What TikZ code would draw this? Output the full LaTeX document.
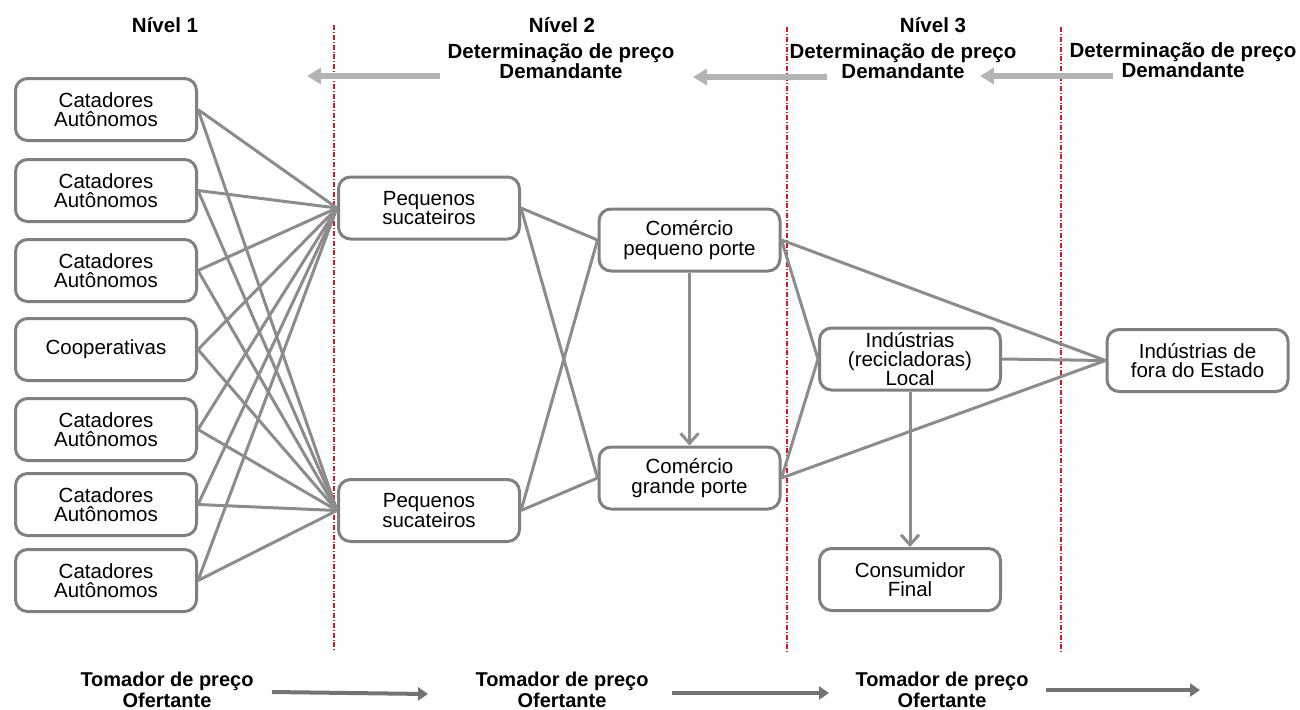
\documentclass[tikz,border=0pt]{standalone}
\usepackage{fontspec}
\setmainfont{Liberation Sans}
\usetikzlibrary{arrows.meta}
\definecolor{boxgray}{RGB}{128,128,128}
\definecolor{linegray}{RGB}{140,140,140}
\definecolor{toparrow}{RGB}{180,180,180}
\definecolor{botarrow}{RGB}{115,115,115}
\definecolor{redline}{RGB}{215,25,35}
\begin{document}
\begin{tikzpicture}[x=0.5pt,y=-0.5pt,
 box/.style={draw=boxgray, line width=1.5pt, rounded corners=6pt, minimum width=90.5pt, minimum height=31pt, align=center, inner sep=0pt, font=\fontsize{10.25}{9.6}\selectfont},
 conn/.style={draw=linegray, line width=1.5pt},
 flow/.style={conn, -{Straight Barb[length=5pt,width=9pt]}},
 sep/.style={draw=redline, line width=0.8pt, dash pattern=on 2.5pt off 1pt on 0.4pt off 1pt},
 lbl/.style={align=center, font=\bfseries\fontsize{10.25}{10}\selectfont, inner sep=0pt},
 blbl/.style={align=center, font=\bfseries\fontsize{10}{9.2}\selectfont, inner sep=0pt},
 toparr/.style={draw=toparrow, line width=2.6pt, -{Triangle[length=7pt,width=8pt]}},
 botarr/.style={draw=botarrow, line width=2pt, -{Triangle[length=5pt,width=6.5pt]}}
]
\useasboundingbox (0,0) rectangle (1300,709);

% separators
\coordinate (s1t) at (334,25);  \coordinate (s1b) at (334,652);
\coordinate (s2t) at (787,27);  \coordinate (s2b) at (787,652);
\coordinate (s3t) at (1061,27); \coordinate (s3b) at (1061,652);
\draw[sep] (s1t) -- (s1b);
\draw[sep] (s2t) -- (s2b);
\draw[sep] (s3t) -- (s3b);

% headings
\node[lbl] (n1) at (165,25) {Nível 1};
\node[lbl] (n2) at (562,25) {Nível 2};
\node[lbl] (n3) at (933,25) {Nível 3};
\node[lbl] (d1) at (561,61) {Determinação de preço\\Demandante};
\node[lbl] (d2) at (903,61) {Determinação de preço\\Demandante};
\node[lbl] (d3) at (1183,60) {Determinação de preço\\Demandante};

% top arrows
\coordinate (ta1s) at (440,76);  \coordinate (ta1e) at (307,76);
\coordinate (ta2s) at (827,77);  \coordinate (ta2e) at (693,77);
\coordinate (ta3s) at (1113,76); \coordinate (ta3e) at (980,76);
\draw[toparr] (ta1s) -- (ta1e);
\draw[toparr] (ta2s) -- (ta2e);
\draw[toparr] (ta3s) -- (ta3e);

% level 1 boxes
\node[box] (c1) at (106,109.5) {Catadores\\Autônomos};
\node[box] (c2) at (106,190.5) {Catadores\\Autônomos};
\node[box] (c3) at (106,270.5) {Catadores\\Autônomos};
\node[box] (c4) at (106,349.5) {Cooperativas};
\node[box] (c5) at (106,429.5) {Catadores\\Autônomos};
\node[box] (c6) at (106,504.5) {Catadores\\Autônomos};
\node[box] (c7) at (106,580.5) {Catadores\\Autônomos};

% level 2 boxes
\node[box] (ps1) at (429,208) {Pequenos\\sucateiros};
\node[box] (ps2) at (429,510.5) {Pequenos\\sucateiros};
\node[box] (cp) at (689.5,240) {Comércio\\pequeno porte};
\node[box] (cg) at (689.5,478) {Comércio\\grande porte};

% level 3 boxes
\node[box] (il) at (910,359) {Indústrias\\(recicladoras)\\Local};
\node[box] (cf) at (910,579.5) {Consumidor\\Final};
\node[box] (fe) at (1197.5,360.5) {Indústrias de\\fora do Estado};

% connectors
\foreach \i in {1,...,7}{
  \draw[conn] (c\i.east) -- (ps1.west);
  \draw[conn] (c\i.east) -- (ps2.west);
}
\draw[conn] (ps1.east) -- (cp.west);
\draw[conn] (ps1.east) -- (cg.west);
\draw[conn] (ps2.east) -- (cp.west);
\draw[conn] (ps2.east) -- (cg.west);
\draw[flow] (cp.south) -- (cg.north);
\draw[conn] (cp.east) -- (il.west);
\draw[conn] (cp.east) -- (fe.west);
\draw[conn] (cg.east) -- (il.west);
\draw[conn] (cg.east) -- (fe.west);
\draw[conn] (il.east) -- (fe.west);
\draw[flow] (il.south) -- (cf.north);

% bottom labels
\node[blbl] (t1) at (167,690) {Tomador de preço\\Ofertante};
\node[blbl] (t2) at (562,690) {Tomador de preço\\Ofertante};
\node[blbl] (t3) at (942,690) {Tomador de preço\\Ofertante};
\coordinate (ba1s) at (272,692);  \coordinate (ba1e) at (428,694);
\coordinate (ba2s) at (672,693);  \coordinate (ba2e) at (829,693);
\coordinate (ba3s) at (1046,690); \coordinate (ba3e) at (1200,690);
\draw[botarr] (ba1s) -- (ba1e);
\draw[botarr] (ba2s) -- (ba2e);
\draw[botarr] (ba3s) -- (ba3e);
\end{tikzpicture}
\end{document}
